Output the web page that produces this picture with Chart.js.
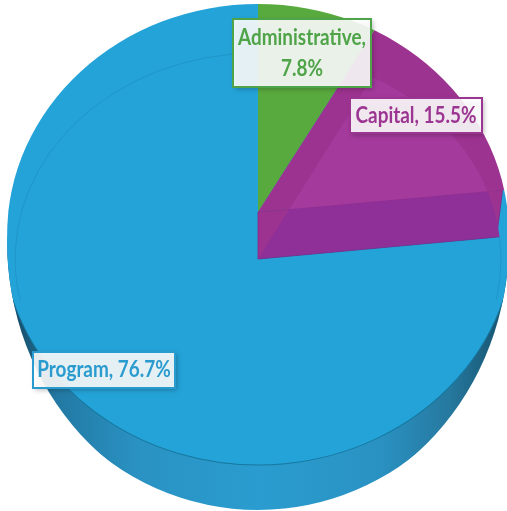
<!DOCTYPE html>
<html>
<head>
<meta charset="utf-8">
<title>Budget shares</title>
<script src="https://cdn.jsdelivr.net/npm/chart.js@4"></script>
<style>
    html, body { margin: 0; padding: 0; background: #fff; }
    canvas { display: block; }
</style>
</head>
<body>
<canvas id="budgetPie" width="507" height="511"></canvas>
<script>
"use strict";

const categories = ['Administrative', 'Capital', 'Program'];
const shares = [7.8, 15.5, 76.7];

const canvas = document.getElementById('budgetPie');
const ctx = canvas.getContext('2d');

// Side wall of the disc, darker towards both ends
const wallFill = ctx.createLinearGradient(0, 0, 507, 0);
wallFill.addColorStop(0.02, '#174f6c');
wallFill.addColorStop(0.1, '#2279a3');
wallFill.addColorStop(0.26, '#2a92c3');
wallFill.addColorStop(0.5, '#2a9ccf');
wallFill.addColorStop(0.74, '#2a92c3');
wallFill.addColorStop(0.88, '#26799f');
wallFill.addColorStop(0.97, '#1a5a78');

const NONE = 'rgba(0,0,0,0)';
const BLUE = '#24a3d8';
const topApex = { x: 258, y: 212 };
const rimApex = { x: 258, y: 259 };

// Outlines the slices get trimmed to
const outerShape = { x: 258, y: 240, rx: 251, ry: 275 };
const faceShape = { x: 258, y: 235, rx: 251, ry: 231 };

function clipper(rectList, shape) {
    return function (c) {
        c.beginPath();
        rectList.forEach(function (r) { c.rect(r[0], r[1], r[2], r[3]); });
        c.clip();
        if (shape) {
            c.beginPath();
            c.ellipse(shape.x, shape.y, shape.rx, shape.ry, 0, 0, Math.PI * 2);
            c.clip();
        }
    };
}

const wholePage = [[0, 0, 507, 511]];
const topFrame = { x: 258, y: 212, rx: 275, ry: 229 };
const frontFrame = { x: 258, y: 233, rx: 256, ry: 232 };
const rimFrame = { x: 258, y: 259, rx: 243, ry: 206 };

// Each layer is the same pie, drawn through its own elliptical frame. Listed bottom to top.
const layers = [
    { name: 'wall', colors: [wallFill, wallFill, wallFill],
      frame: { x: 258, y: 259, rx: 251, ry: 251 }, clipTo: clipper(wholePage, outerShape) },
    { name: 'faceLower', colors: [NONE, NONE, BLUE],
      frame: frontFrame, clipTo: clipper([[0, 212, 507, 299]], outerShape) },
    { name: 'frontEdge', colors: [NONE, NONE, NONE], borderColor: '#17789f', borderWidth: [0, 0, 1],
      frame: frontFrame, clipTo: clipper([[0, 300, 507, 211]], outerShape) },
    { name: 'faceUpper', colors: ['#59aa3e', NONE, BLUE],
      frame: topFrame, clipTo: clipper([[0, 0, 507, 212]], faceShape) },
    { name: 'capitalRimFront', colors: [NONE, '#8e3098', NONE], wallBelow: true, side: 'below',
      frame: rimFrame },
    { name: 'capitalTop', colors: [NONE, '#9c3390', NONE],
      frame: topFrame, clipTo: clipper(wholePage, faceShape) },
    { name: 'capitalRimBack', colors: [NONE, '#a33a9c', NONE], side: 'above',
      frame: rimFrame },
    { name: 'rimLine', colors: [NONE, NONE, NONE], borderColor: 'rgba(10,90,130,0.2)', borderWidth: [0, 0, 1],
      frame: rimFrame, clipTo: clipper([[0, 0, 257, 300], [259, 0, 248, 300]]) }
];

const labelBoxes = [
    { x: 233, y: 19, w: 138, h: 68, color: '#4fa348', lines: [categories[0] + ',', shares[0] + '%'] },
    { x: 350, y: 98, w: 132, h: 35, color: '#9c3592', lines: [categories[1] + ', ' + shares[1] + '%'] },
    { x: 33, y: 352, w: 142, h: 36, color: '#2a9bcf', lines: [categories[2] + ', ' + shares[2] + '%'] }
];

const ellipseLayers = {
    id: 'ellipseLayers',
    beforeDatasetsDraw: function (chart) {
        // The library splits a pie into rings per dataset, here every layer is a full pie
        const area = chart.chartArea;
        const radius = Math.min(area.width, area.height) / 2;
        chart.data.datasets.forEach(function (ds, i) {
            chart.getDatasetMeta(i).data.forEach(function (arc) {
                arc.innerRadius = 0;
                arc.outerRadius = radius;
            });
        });
    },
    beforeDatasetDraw: function (chart, args) {
        const c = chart.ctx;
        const ds = chart.data.datasets[args.index];
        const f = ds.frame;
        const first = args.meta.data[0];
        const r = first.outerRadius;
        const capitalEnd = args.meta.data[1].endAngle;
        if (ds.wallBelow) {
            drawCutWall(c, capitalEnd);
        }
        c.save();
        if (ds.clipTo) {
            ds.clipTo(c);
        }
        if (ds.side) {
            clipToSide(c, capitalEnd, ds.side);
        }
        c.translate(f.x, f.y);
        c.scale(f.rx / r, f.ry / r);
        c.translate(-first.x, -first.y);
    },
    afterDatasetDraw: function (chart) {
        chart.ctx.restore();
    },
    afterDatasetsDraw: function (chart) {
        labelBoxes.forEach(function (box) { drawLabel(chart.ctx, box); });
    }
};

function topEdgeEnd(angle) {
    return { x: topApex.x + 246 * Math.cos(angle), y: topApex.y + 208 * Math.sin(angle) };
}

// Keep only what lies above or below the front edge of the Capital top face
function clipToSide(c, angle, side) {
    const end = topEdgeEnd(angle);
    const edgeY = side === 'above' ? 0 : 511;
    c.beginPath();
    c.moveTo(topApex.x, topApex.y);
    c.lineTo(end.x, end.y);
    c.lineTo(507, end.y);
    c.lineTo(507, edgeY);
    c.lineTo(0, edgeY);
    c.lineTo(0, topApex.y);
    c.closePath();
    c.clip();
}

// Cut face of the Capital slice, between the top face and the rim
function drawCutWall(c, angle) {
    const end = topEdgeEnd(angle);
    c.save();
    c.beginPath();
    c.moveTo(topApex.x, topApex.y);
    c.lineTo(end.x, end.y);
    c.lineTo(rimApex.x + 240 * Math.cos(angle), rimApex.y + 206 * Math.sin(angle));
    c.lineTo(rimApex.x, rimApex.y);
    c.closePath();
    c.fillStyle = '#9c3390';
    c.fill();
    c.strokeStyle = '#7d2a85';
    c.lineWidth = 0.8;
    c.stroke();
    c.restore();
}

function drawLabel(c, box) {
    c.save();
    c.shadowColor = 'rgba(0,0,0,0.3)';
    c.shadowBlur = 5;
    c.shadowOffsetX = 2;
    c.shadowOffsetY = 2;
    c.fillStyle = 'rgba(255,255,255,0.89)';
    c.fillRect(box.x, box.y, box.w, box.h);
    c.shadowColor = NONE;
    c.strokeStyle = box.color;
    c.lineWidth = 2;
    c.strokeRect(box.x, box.y, box.w, box.h);
    c.fillStyle = box.color;
    c.font = '700 22px Lato';
    c.textAlign = 'center';
    c.textBaseline = 'middle';
    const mid = box.x + box.w / 2;
    box.lines.forEach(function (line, i) {
        const y = box.y + box.h / 2 + (i - (box.lines.length - 1) / 2) * 31;
        c.save();
        c.translate(mid, y);
        c.scale(0.86, 1);
        c.fillText(line, 0, 0);
        c.restore();
    });
    c.restore();
}

new Chart(ctx, {
    type: 'pie',
    data: {
        labels: categories,
        // The library paints the last dataset first, so the list is flipped
        datasets: layers.slice().reverse().map(function (layer) {
            return {
                label: layer.name,
                data: shares,
                backgroundColor: layer.colors,
                borderColor: layer.borderColor || NONE,
                borderWidth: layer.borderWidth || 0,
                frame: layer.frame,
                clipTo: layer.clipTo,
                side: layer.side,
                wallBelow: layer.wallBelow
            };
        })
    },
    options: {
        responsive: false,
        animation: false,
        plugins: {
            legend: { display: false },
            tooltip: { enabled: false }
        }
    },
    plugins: [ellipseLayers]
});
</script>
</body>
</html>
